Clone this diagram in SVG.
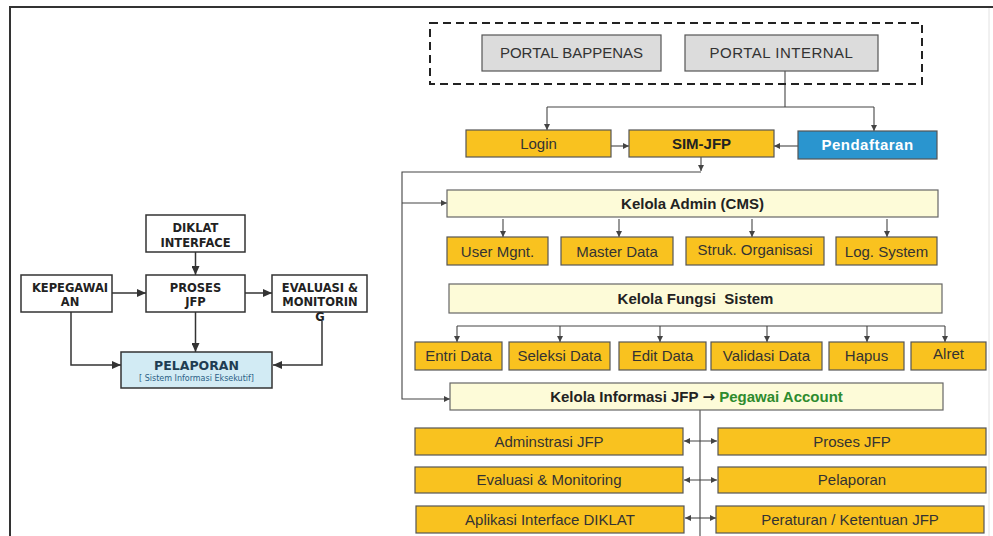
<svg xmlns="http://www.w3.org/2000/svg" width="993" height="536" viewBox="0 0 993 536">
<style>
.lbox{fill:#fff;stroke:#333;stroke-width:1.5}
.lt{font-family:"DejaVu Sans",Verdana,sans-serif;font-weight:bold;font-size:11.5px;fill:#222;text-anchor:middle}
.portal{fill:#dcdcdc;stroke:#555;stroke-width:1.2}
.gold{fill:#f9c21f;stroke:#555;stroke-width:1.2}
.cream{fill:#fdfbd8;stroke:#666;stroke-width:1.2}
.blue{fill:#2a95cf;stroke:#555;stroke-width:1.2}
.t{font-family:"Liberation Sans",Arial,sans-serif;font-size:15px;fill:#333;text-anchor:middle}
.tb{font-family:"Liberation Sans",Arial,sans-serif;font-size:15px;font-weight:bold;fill:#222;text-anchor:middle}
.lc{fill:none;stroke:#333;stroke-width:1.5}
.rc{fill:none;stroke:#444;stroke-width:1.1}
</style>
<defs>
<marker id="ah" markerWidth="9" markerHeight="8" refX="9" refY="4" orient="auto" markerUnits="userSpaceOnUse"><path d="M0,0 L9,4 L0,8 z" fill="#333"/></marker>
<marker id="as" markerWidth="6" markerHeight="6" refX="6" refY="3" orient="auto-start-reverse" markerUnits="userSpaceOnUse"><path d="M0,0 L6,3 L0,6 z" fill="#444"/></marker>
</defs>
<rect width="993" height="536" fill="#fff"/>
<g id="frame">
<path d="M9 7 H993" stroke="#333" stroke-width="2" fill="none"/>
<path d="M10 7 V536" stroke="#333" stroke-width="2" fill="none"/>
<path d="M989 8 V536" stroke="#e2e2e2" stroke-width="1" fill="none"/>
</g>

<g id="connectors">
<path class="lc" d="M195.5 252 V275" marker-end="url(#ah)"/>
<path class="lc" d="M112 293 H146" marker-end="url(#ah)"/>
<path class="lc" d="M245 293 H272" marker-end="url(#ah)"/>
<path class="lc" d="M195.5 312 V352" marker-end="url(#ah)"/>
<path class="lc" d="M71 312 V365 H121" marker-end="url(#ah)"/>
<path class="lc" d="M322 321 V365 H273" marker-end="url(#ah)"/>

<path class="rc" d="M785 71 V107"/>
<path class="rc" d="M547 107 H874"/>
<path class="rc" d="M547 107 V130" marker-end="url(#as)"/>
<path class="rc" d="M874 107 V131" marker-end="url(#as)"/>
<path class="rc" d="M611 146 H629" marker-end="url(#as)"/>
<path class="rc" d="M798 146 H774" marker-end="url(#as)"/>
<path class="rc" d="M701 157 V171" marker-end="url(#as)"/>
<path class="rc" d="M701 172 H402 V399 H450" marker-end="url(#as)"/>
<path class="rc" d="M402 203 H447" marker-end="url(#as)"/>
<path class="rc" d="M503 219 V237" marker-end="url(#as)"/>
<path class="rc" d="M619 219 V237" marker-end="url(#as)"/>
<path class="rc" d="M752 219 V237" marker-end="url(#as)"/>
<path class="rc" d="M887 219 V237" marker-end="url(#as)"/>
<path class="rc" d="M457 326 H945"/>
<path class="rc" d="M457 326 V342" marker-end="url(#as)"/>
<path class="rc" d="M560 326 V342" marker-end="url(#as)"/>
<path class="rc" d="M660 326 V342" marker-end="url(#as)"/>
<path class="rc" d="M767 326 V342" marker-end="url(#as)"/>
<path class="rc" d="M867 326 V342" marker-end="url(#as)"/>
<path class="rc" d="M945 326 V342" marker-end="url(#as)"/>
<path class="rc" d="M700 410 V536"/>
<path class="rc" d="M684 441 H717" marker-start="url(#as)" marker-end="url(#as)"/>
<path class="rc" d="M684 480 H717" marker-start="url(#as)" marker-end="url(#as)"/>
<path class="rc" d="M685 518 H716" marker-start="url(#as)" marker-end="url(#as)"/>
</g>

<g id="diklat"><rect class="lbox" x="146" y="215" width="99" height="37"/><text class="lt" x="195.5" y="232">DIKLAT</text><text class="lt" x="195.5" y="247">INTERFACE</text></g>
<g id="kepegawaian"><rect class="lbox" x="21" y="275" width="91" height="37"/><text class="lt" x="70" y="292">KEPEGAWAI</text><text class="lt" x="70" y="306">AN</text></g>
<g id="proses"><rect class="lbox" x="146" y="275" width="99" height="37"/><text class="lt" x="195.5" y="292">PROSES</text><text class="lt" x="195.5" y="306">JFP</text></g>
<g id="evaluasi"><rect class="lbox" x="272" y="275" width="95" height="37"/><text class="lt" x="320" y="292">EVALUASI &amp;</text><text class="lt" x="320" y="306">MONITORIN</text><text class="lt" x="320" y="321">G</text></g>
<g id="pelaporan-left"><rect x="121" y="352" width="151" height="36" fill="#d2ebf4" stroke="#333" stroke-width="1.5"/><text class="lt" x="196.5" y="370" style="font-size:12.5px;fill:#1f3d52">PELAPORAN</text><text x="196.5" y="381" text-anchor="middle" font-family="DejaVu Sans,sans-serif" font-size="8px" fill="#2b5f86">[ Sistem Informasi Eksekutif]</text></g>

<g id="portal-group"><rect x="430" y="23" width="492" height="61" fill="none" stroke="#222" stroke-width="2" stroke-dasharray="8,5"/></g>
<g id="portal-bappenas"><rect class="portal" x="482" y="35" width="179" height="36"/><text class="t" x="571.5" y="58">PORTAL BAPPENAS</text></g>
<g id="portal-internal"><rect class="portal" x="685" y="35" width="193" height="36"/><text class="t" x="781.5" y="58" letter-spacing="0.5">PORTAL INTERNAL</text></g>

<g id="login"><rect class="gold" x="466" y="130" width="145" height="27"/><text class="t" x="538.5" y="149">Login</text></g>
<g id="sim-jfp"><rect class="gold" x="629" y="130" width="145" height="27"/><text class="tb" x="701.5" y="149">SIM-JFP</text></g>
<g id="pendaftaran"><rect class="blue" x="798" y="131" width="139" height="28"/><text class="tb" x="867.5" y="150" style="fill:#fff" letter-spacing="0.5">Pendaftaran</text></g>

<g id="kelola-admin"><rect class="cream" x="447" y="190" width="491" height="27"/><text class="tb" x="692.5" y="209">Kelola Admin (CMS)</text></g>
<g id="user-mgnt"><rect class="gold" x="447" y="237" width="101" height="28"/><text class="t" x="497.5" y="257">User Mgnt.</text></g>
<g id="master-data"><rect class="gold" x="561" y="237" width="112" height="28"/><text class="t" x="617" y="257">Master Data</text></g>
<g id="struk-organisasi"><rect class="gold" x="686" y="237" width="138" height="28"/><text class="t" x="755" y="255">Struk. Organisasi</text></g>
<g id="log-system"><rect class="gold" x="836" y="237" width="101" height="28"/><text class="t" x="886.5" y="257">Log. System</text></g>

<g id="kelola-fungsi"><rect class="cream" x="449" y="284" width="493" height="29"/><text class="tb" x="695.5" y="304" xml:space="preserve">Kelola Fungsi  Sistem</text></g>
<g id="entri-data"><rect class="gold" x="415" y="342" width="87" height="28"/><text class="t" x="458.5" y="361">Entri Data</text></g>
<g id="seleksi-data"><rect class="gold" x="509" y="342" width="101" height="28"/><text class="t" x="559.5" y="361">Seleksi Data</text></g>
<g id="edit-data"><rect class="gold" x="619" y="342" width="87" height="28"/><text class="t" x="662.5" y="361">Edit Data</text></g>
<g id="validasi-data"><rect class="gold" x="711" y="342" width="111" height="28"/><text class="t" x="766.5" y="361">Validasi Data</text></g>
<g id="hapus"><rect class="gold" x="829" y="342" width="75" height="28"/><text class="t" x="866.5" y="361">Hapus</text></g>
<g id="alret"><rect class="gold" x="911" y="342" width="75" height="28"/><text class="t" x="948.5" y="359">Alret</text></g>

<g id="kelola-informasi"><rect class="cream" x="450" y="383" width="493" height="27"/><text class="tb" x="696.5" y="402">Kelola Informasi JFP <tspan font-family="DejaVu Sans,sans-serif">→</tspan> <tspan fill="#2e8b2e">Pegawai Account</tspan></text></g>

<g id="adminstrasi-jfp"><rect class="gold" x="415" y="428" width="268" height="27"/><text class="t" x="549" y="447">Adminstrasi JFP</text></g>
<g id="proses-jfp"><rect class="gold" x="718" y="428" width="268" height="27"/><text class="t" x="852" y="447">Proses JFP</text></g>
<g id="evaluasi-monitoring"><rect class="gold" x="415" y="467" width="268" height="26"/><text class="t" x="549" y="485">Evaluasi &amp; Monitoring</text></g>
<g id="pelaporan"><rect class="gold" x="718" y="467" width="268" height="26"/><text class="t" x="852" y="485">Pelaporan</text></g>
<g id="aplikasi-diklat"><rect class="gold" x="416" y="506" width="268" height="27"/><text class="t" x="550" y="525">Aplikasi Interface DIKLAT</text></g>
<g id="peraturan"><rect class="gold" x="716" y="506" width="268" height="27"/><text class="t" x="850" y="525">Peraturan / Ketentuan JFP</text></g>
</svg>
